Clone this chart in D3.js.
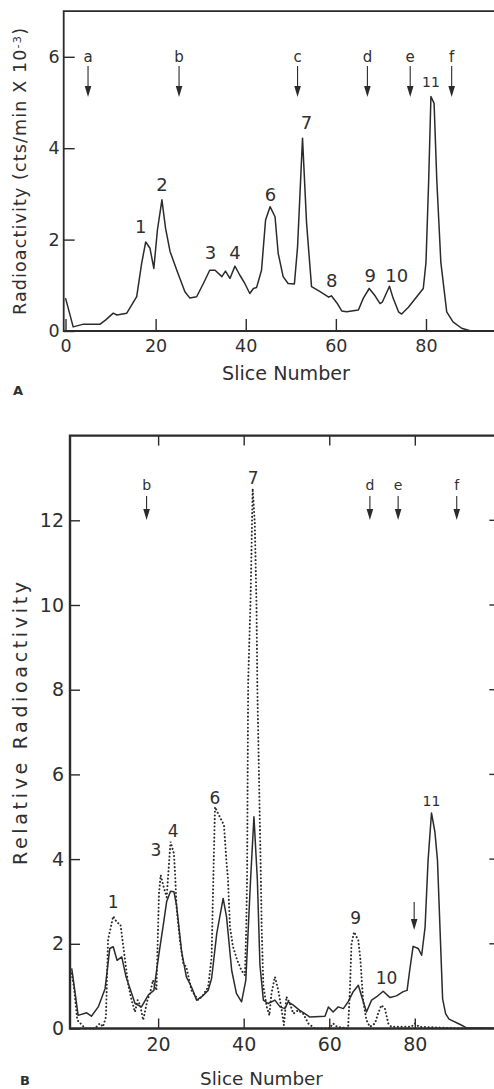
<!DOCTYPE html>
<html><head><meta charset="utf-8">
<script src="https://cdn.jsdelivr.net/npm/d3@7"></script>
<style>
html,body{margin:0;padding:0;background:#fff;overflow:hidden}
svg{display:block}
text{font-family:"DejaVu Sans","Open Sans",sans-serif;fill:#2f2f2f}
</style>
</head><body>
<svg id="c" width="494" height="1089"></svg>
<script>
// ---------- Panel A data ----------
const slicesA = [0,0.6,1.7,4,7.7,9,10.6,11.4,13.6,15.8,16.9,17.8,18.75,19.6,20.4,21.4,22.2,23.2,24.7,26.5,27.6,29.1,30.6,32,33.2,34.7,35.5,36.5,37.6,38.7,39.8,40.9,41.7,42.4,43.5,44.4,45.4,46.5,47.2,48.3,49.4,50.8,51.5,52.6,53.5,54.6,56.5,57.8,58.4,59.0,60.2,61.3,62.4,65,66.1,67.4,68.7,69.8,70.3,71.9,72.7,73.9,74.6,76.1,79.4,80.0,80.6,81.1,81.8,82.4,83.3,84.6,86,87.9,90,100];
const activityA = [0.72,0.5,0.09,0.15,0.15,0.25,0.39,0.35,0.39,0.75,1.48,1.95,1.81,1.37,2.21,2.87,2.25,1.74,1.33,0.86,0.72,0.75,1.04,1.33,1.33,1.19,1.31,1.15,1.42,1.22,1.04,0.82,0.93,0.95,1.33,2.43,2.72,2.5,1.7,1.19,1.04,1.03,1.84,4.22,2.36,0.97,0.86,0.78,0.74,0.77,0.62,0.44,0.42,0.46,0.72,0.93,0.77,0.6,0.63,0.98,0.72,0.42,0.37,0.52,0.93,1.5,3.3,5.13,4.98,3.3,1.5,0.42,0.2,0.06,0,0];
const markerLettersA = ["a","b","c","d","e","f"];
const markerSlicesA = [5,25.2,51.5,67,76.5,85.7];
const peakNamesA = ["1","2","3","4","6","7","8","9","10","11"];
const peakSlicesA = [16.7,21.4,32.2,37.6,45.5,53.5,59.1,67.6,73.5,81.1];
const peakLevelsA = [2.14,3.06,1.58,1.58,2.84,4.42,0.96,1.07,1.07,5.34];
const xTicksA = [0,20,40,60,80];
const yTicksA = [0,2,4,6];

// ---------- Panel B data ----------
const slicesBSolid = [-0.2,0.3,1.3,3.3,4.4,6.0,7.6,8.7,9.5,10.4,11.5,12.5,13.8,14.6,16.1,17.7,19,20.2,21.2,22,22.9,23.7,24.3,25.5,26.6,27.8,29,30.2,31.7,32.5,33.7,35.2,36,37.2,38.3,39.5,40.5,41.6,42.4,43.2,43.8,44.6,45.7,47.3,48.5,49.6,50.4,51.6,53.1,54.3,55.5,59,59.8,60.9,62.1,63.3,64.4,65.6,66.8,67.6,68.7,69.9,71.1,72.6,74.2,75.7,77.3,78.2,78.8,79.6,80.8,81.6,82.4,83.1,83.9,84.7,85.3,86.5,87.2,88,90.5,92,100];
const valuesBSolid = [1.42,1.06,0.31,0.37,0.29,0.51,0.94,1.89,1.93,1.61,1.69,1.22,0.83,0.59,0.51,0.79,0.9,1.77,2.44,3.0,3.24,3.23,2.91,1.81,1.22,0.98,0.67,0.75,0.9,1.18,2.24,3.07,2.63,1.37,0.83,0.63,1.14,3.5,5.0,3.5,1.5,0.67,0.59,0.67,0.51,0.47,0.63,0.55,0.43,0.35,0.27,0.29,0.51,0.39,0.51,0.47,0.63,0.87,1.02,0.75,0.39,0.67,0.75,0.88,0.73,0.77,0.87,0.9,1.37,1.94,1.89,1.73,2.39,3.97,5.09,4.64,3.97,0.7,0.35,0.22,0.1,0.02,0];
const slicesBDotted = [-0.2,0.3,1.1,2.5,3.3,5.2,6.4,7.1,7.8,8.3,9.5,10.4,11.2,12,13,13.8,14.6,15.2,15.8,16.5,17.5,18.1,18.8,19.6,20.2,20.6,21.3,22,22.9,23.7,24.0,24.3,25.1,25.9,26.6,27.8,29.4,30.5,31.7,32.5,33.0,33.3,34,35.4,36,36.3,36.8,37.5,38.5,39.5,40.3,40.6,40.8,41.05,41.6,42.1,42.6,43.0,43.2,44.0,44.2,44.6,45.4,46,46.5,47.3,48.1,48.9,49.4,50,50.8,51.6,52.7,53.9,55.1,56.6,60,60.9,61.8,64.4,64.8,65.2,65.8,66.8,67.3,67.9,68.7,69.5,70.7,71.4,72.2,73,73.8,74.5,79.2,80,81,91];
const valuesBDotted = [1.3,1.0,0.2,0.05,0,0,0.12,0.04,0.27,2.1,2.65,2.5,2.46,1.83,1.04,0.67,0.39,0.67,0.55,0.2,0.67,0.83,1.14,0.9,3.19,3.62,3.34,3.1,4.41,4.13,3.58,2.87,2.08,1.53,1.45,0.9,0.67,0.79,0.98,1.69,3.97,5.23,5.08,4.8,3.9,3.58,2.4,1.93,1.61,1.37,1.26,2.4,3.6,8.2,10.1,12.75,11.92,9.96,8.0,3.66,2.4,1.0,0.51,0.31,0.83,1.22,0.9,0.43,0.08,0.75,0.59,0.35,0.43,0.35,0.12,0,0,0.12,0.04,0,0.83,2.0,2.28,2.08,1.61,0.67,0.2,0.04,0.12,0.35,0.55,0.47,0.12,0.04,0.04,0.12,0.04,0];
const markerLettersB = ["b","d","e","f"];
const markerSlicesB = [17.3,69.5,76.1,89.8];
const extraArrowSliceB = [79.85];
const peakNamesB = ["1","3","4","6","7","9","10","11"];
const peakSlicesB = [9.5,19.5,23.5,33.3,42.2,66.2,73.4,83.9];
const peakLevelsB = [2.85,4.07,4.52,5.31,12.85,2.46,1.06,5.25];
const xTicksB = [20,40,60,80];
const yTicksB = [0,2,4,6,8,10,12];

// ---------- drawing ----------
const svg = d3.select("#c");
svg.append("rect").attr("width",494).attr("height",1089).attr("fill","#fff");
const ink = "#2b2b2b";

function arrow(g, x, yTop, yBot){
  g.append("line").attr("x1",x).attr("x2",x).attr("y1",yTop).attr("y2",yBot-8)
    .attr("stroke",ink).attr("stroke-width",1.1);
  g.append("path").attr("d",`M${x-3.3},${yBot-11}L${x+3.3},${yBot-11}L${x},${yBot}Z`).attr("fill",ink);
}
function fit(t, len){
  const fs = parseFloat(t.style("font-size"));
  const w = t.node().getComputedTextLength();
  if (w>0) t.style("font-size", (fs*len/w).toFixed(2)+"px");
  return t;
}

// ===== Panel A =====
const xA = d3.scaleLinear().domain([-0.4,100]).range([63.7, 63.7+100.4*4.506]);
const yA = d3.scaleLinear().domain([0,7]).range([331, 331-7*45.7]);
const gA = svg.append("g");
gA.append("path").attr("d",`M${xA(100)},${yA(7)}H${xA(-0.4)}V${yA(0)}H${xA(100)}`)
  .attr("fill","none").attr("stroke",ink).attr("stroke-width",1.8);
const axLA = gA.append("g").attr("transform",`translate(${xA(-0.4)},0)`)
  .call(d3.axisLeft(yA).tickValues(yTicksA).tickSize(-11).tickPadding(4).tickFormat(d3.format("d")));
const axBA = gA.append("g").attr("transform",`translate(0,${yA(0)})`)
  .call(d3.axisBottom(xA).tickValues(xTicksA).tickSize(-12).tickPadding(9).tickFormat(d3.format("d")));
[axLA,axBA].forEach(a=>{a.select(".domain").remove();a.selectAll("line").attr("stroke",ink).attr("stroke-width",1.4);
  a.selectAll("text").style("font-size","17.5px").attr("fill","#2f2f2f").style("font-family","DejaVu Sans");});

gA.append("path").datum(slicesA.map((s,i)=>[s,activityA[i]]))
  .attr("d",d3.line().x(d=>xA(d[0])).y(d=>yA(d[1])))
  .attr("fill","none").attr("stroke",ink).attr("stroke-width",1.5).attr("stroke-linejoin","round");

markerSlicesA.forEach((s,i)=>{
  gA.append("text").attr("x",xA(s)).attr("y",62).attr("text-anchor","middle").style("font-size","15px").text(markerLettersA[i]);
  arrow(gA, xA(s), 66, 97);
});
peakNamesA.forEach((n,i)=>{
  gA.append("text").attr("x",xA(peakSlicesA[i])).attr("y",yA(peakLevelsA[i])).attr("text-anchor","middle")
    .style("font-size", n==="11"?"14px":"18px").text(n);
});
gA.append("text").attr("transform","translate(20,171.5) rotate(-90)").attr("text-anchor","middle").attr("dy","0.36em")
  .attr("textLength",287).attr("lengthAdjust","spacing")
  .style("font-size","17.5px")
  .call(t=>{t.append("tspan").text("Radioactivity (cts/min X 10");
    t.append("tspan").attr("dy","-0.5em").style("font-size","0.65em").text("-3");
    t.append("tspan").attr("dy","0.33em").text(")");});
fit(gA.append("text").attr("x",286).attr("y",380).attr("text-anchor","middle").style("font-size","18px").text("Slice Number"), 128);
gA.append("text").attr("x",13).attr("y",395).style("font-size","13px").style("font-weight","bold").text("A");

// ===== Panel B =====
const xB = d3.scaleLinear().domain([-0.6,100]).range([70, 70+100.6*4.278]);
const yB = d3.scaleLinear().domain([0,14]).range([1028.5, 1028.5-14*42.35]);
const gB = svg.append("g");
gB.append("path").attr("d",`M${xB(104)},${yB(14)}H${xB(-0.6)}V${yB(0)}H${xB(104)}`)
  .attr("fill","none").attr("stroke",ink).attr("stroke-width",2.4);
const axLB = gB.append("g").attr("transform",`translate(${xB(-0.6)},0)`)
  .call(d3.axisLeft(yB).tickValues(yTicksB).tickSize(-10).tickPadding(6).tickFormat(d3.format("d")));
const axBB = gB.append("g").attr("transform",`translate(0,${yB(0)})`)
  .call(d3.axisBottom(xB).tickValues(xTicksB).tickSize(-10).tickPadding(9).tickFormat(d3.format("d")));
const axTB = gB.append("g").attr("transform",`translate(0,${yB(14)})`)
  .call(d3.axisTop(xB).tickValues(xTicksB).tickSize(-10).tickFormat(""));
[axLB,axBB,axTB].forEach(a=>{a.select(".domain").remove();a.selectAll("line").attr("stroke",ink).attr("stroke-width",1.4);
  a.selectAll("text").style("font-size","19px").attr("fill","#2f2f2f").style("font-family","DejaVu Sans");});
// right-edge inward ticks (the right frame edge itself lies beyond the picture)
gB.append("g").selectAll("line").data(yTicksB.slice(1)).join("line")
  .attr("x1",xB(100)-11).attr("x2",xB(100)).attr("y1",d=>yB(d)).attr("y2",d=>yB(d))
  .attr("stroke",ink).attr("stroke-width",1.4);

gB.append("path").datum(slicesBDotted.map((s,i)=>[s,valuesBDotted[i]]))
  .attr("d",d3.line().x(d=>xB(d[0])).y(d=>yB(d[1])))
  .attr("fill","none").attr("stroke",ink).attr("stroke-width",2).attr("stroke-linecap","round")
  .attr("stroke-dasharray","0.1,3.6");
gB.append("path").datum(slicesBSolid.map((s,i)=>[s,valuesBSolid[i]]))
  .attr("d",d3.line().x(d=>xB(d[0])).y(d=>yB(d[1])))
  .attr("fill","none").attr("stroke",ink).attr("stroke-width",1.5).attr("stroke-linejoin","round");

markerSlicesB.forEach((s,i)=>{
  gB.append("text").attr("x",xB(s)).attr("y",490).attr("text-anchor","middle").style("font-size","14px").text(markerLettersB[i]);
  arrow(gB, xB(s), 496, 520);
});
extraArrowSliceB.forEach(s=>arrow(gB, xB(s), 902, 930));
peakNamesB.forEach((n,i)=>{
  gB.append("text").attr("x",xB(peakSlicesB[i])).attr("y",yB(peakLevelsB[i])).attr("text-anchor","middle")
    .style("font-size", n==="11"?"14px":"17px").text(n);
});
gB.append("text").attr("transform","translate(20,723.5) rotate(-90)").attr("text-anchor","middle").attr("dy","0.36em")
  .attr("textLength",283).attr("lengthAdjust","spacing")
  .style("font-size","19px").text("Relative Radioactivity");
fit(gB.append("text").attr("x",261.5).attr("y",1085).attr("text-anchor","middle").style("font-size","18px").text("Slice Number"), 123);
gB.append("text").attr("x",20).attr("y",1085).style("font-size","13px").style("font-weight","bold").text("B");
</script>
</body></html>
